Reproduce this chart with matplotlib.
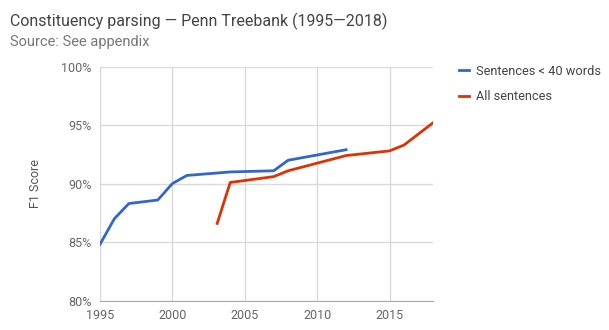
import matplotlib.pyplot as plt
from matplotlib.ticker import FuncFormatter

plt.rcParams['font.family'] = ['Roboto', 'DejaVu Sans']

# F1 scores on the Penn Treebank test set
short_years = [1995, 1996, 1997, 1999, 2000, 2001, 2003, 2004, 2007, 2008, 2012]
short_f1 = [84.8, 87.0, 88.3, 88.6, 90.0, 90.7, 90.9, 91.0, 91.1, 92.0, 92.9]

all_years = [2003.1, 2004, 2007, 2008, 2012, 2015, 2016, 2018]
all_f1 = [86.6, 90.1, 90.6, 91.1, 92.4, 92.8, 93.3, 95.2]

x_ticks = [1995, 2000, 2005, 2010, 2015]
y_ticks = [80, 85, 90, 95, 100]

fig = plt.figure(figsize=(6.09, 3.3), dpi=100)
ax = fig.add_axes([0.164, 0.089, 0.547, 0.709])

ax.plot(short_years, short_f1, color='#3366cc', lw=2, label='Sentences < 40 words')
ax.plot(all_years, all_f1, color='#dc3300', lw=2, label='All sentences')

ax.set_xlim(1995, 2018)
ax.set_ylim(80, 100)
ax.set_xticks(x_ticks)
ax.set_yticks(y_ticks)
ax.yaxis.set_major_formatter(FuncFormatter(lambda v, _: f'{v:.0f}%'))
ax.grid(True, color='#d9d9d9', lw=1)
ax.set_axisbelow(True)
for side in ['top', 'right', 'left']:
    ax.spines[side].set_visible(False)
ax.spines['bottom'].set_color('#aaaaaa')
ax.tick_params(length=0, labelsize=9, colors='#666666', pad=6)
ax.set_ylabel('F1 Score', fontsize=9, color='#555555', labelpad=14)

fig.text(0.016, 0.92, 'Constituency parsing \u2014 Penn Treebank (1995\u20142018)',
         fontsize=11.5, color='#444444')
fig.text(0.016, 0.862, 'Source: See appendix', fontsize=10.5, color='#777777')

fig.legend(loc='upper left', bbox_to_anchor=(0.735, 0.838), frameon=False,
           fontsize=9.2, labelcolor='#444444', handlelength=0.8,
           handletextpad=0.5, labelspacing=0.95)

fig.savefig('out.png', dpi=100)
